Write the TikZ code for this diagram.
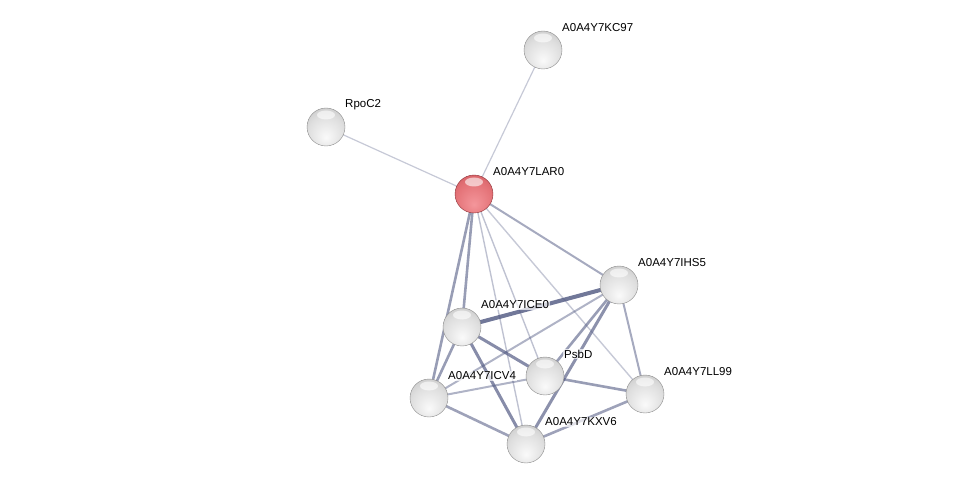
\documentclass[tikz,border=0pt]{standalone}
\usepackage{fontspec}
\setmainfont{Liberation Sans}
\usetikzlibrary{backgrounds}
\definecolor{edgeblue}{RGB}{78,86,128}
\definecolor{gl0}{RGB}{250,250,250}
\definecolor{gl1}{RGB}{222,222,222}
\definecolor{gl2}{RGB}{180,180,180}
\definecolor{gl3}{RGB}{125,125,125}
\definecolor{rd0}{RGB}{244,150,155}
\definecolor{rd1}{RGB}{228,115,120}
\definecolor{rd2}{RGB}{196,74,80}
\definecolor{rd3}{RGB}{140,50,56}
\pgfdeclareradialshading{glassgray}{\pgfpoint{0bp}{-14bp}}{color(0bp)=(gl0); color(24bp)=(gl1); color(48bp)=(gl2); color(64bp)=(gl3)}
\pgfdeclareradialshading{glassred}{\pgfpoint{0bp}{-14bp}}{color(0bp)=(rd0); color(24bp)=(rd1); color(48bp)=(rd2); color(64bp)=(rd3)}
\tikzset{
  prot/.style={circle,minimum size=38pt,inner sep=0pt,shading=glassgray,draw=black!45,line width=0.4pt,
    path picture={\fill[white,opacity=0.6] ([yshift=-7pt]path picture bounding box.north) ellipse (9pt and 4.5pt);}},
  query/.style={prot,shading=glassred,draw=rd3},
  lbl/.style={anchor=west,inner sep=1pt,fill=white,fill opacity=0.7,text opacity=1,font=\fontsize{11.5}{13}\selectfont},
  link/.style={edgeblue,line cap=round}
}
\begin{document}
\begin{tikzpicture}
  [x=1pt,y=-1pt]
  \useasboundingbox (0,0) rectangle (975,489);
  \node[prot] (kc97) at (543,50) {};
  \node[prot] (rpoc2) at (326,127) {};
  \node[query] (lar0) at (474,194) {};
  \node[prot] (ihs5) at (619,285) {};
  \node[prot] (ice0) at (462,327) {};
  \node[prot] (psbd) at (545,376) {};
  \node[prot] (icv4) at (429,398) {};
  \node[prot] (ll99) at (645,394) {};
  \node[prot] (kxv6) at (526,444) {};
  \foreach \n/\t in {kc97/A0A4Y7KC97,rpoc2/RpoC2,lar0/A0A4Y7LAR0,ihs5/A0A4Y7IHS5,ice0/A0A4Y7ICE0,
    psbd/PsbD,icv4/A0A4Y7ICV4,ll99/A0A4Y7LL99,kxv6/A0A4Y7KXV6}
    \node[lbl,shift={(18,-22)}] (\n-l) at (\n) {\t};
  \begin{scope}[on background layer]
  \foreach \from/\to/\w/\o in {lar0/rpoc2/1.2/0.32,lar0/kc97/1.2/0.32,lar0/ihs5/2/0.5,lar0/ice0/2.6/0.58,
    lar0/icv4/2.6/0.58,lar0/psbd/1.4/0.36,lar0/kxv6/1.4/0.36,lar0/ll99/1.4/0.32,
    ihs5/ice0/4/0.8,ihs5/icv4/2/0.45,ihs5/psbd/2.6/0.58,ihs5/kxv6/3/0.65,ihs5/ll99/2/0.5,
    ice0/psbd/3/0.68,ice0/icv4/2.6/0.58,ice0/kxv6/3/0.68,
    icv4/psbd/2/0.45,icv4/kxv6/2.6/0.55,psbd/ll99/2.6/0.58,kxv6/ll99/2.6/0.55}
    \draw[link,line width=\w pt,draw opacity=\o] (\from) -- (\to);
  \end{scope}
\end{tikzpicture}
\end{document}
